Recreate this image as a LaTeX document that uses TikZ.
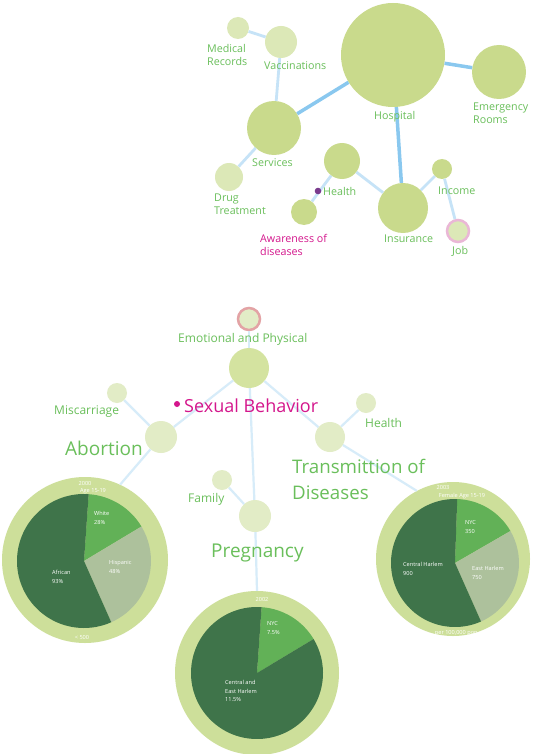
\documentclass[tikz,border=0pt]{standalone}
\usepackage{fontspec}
\setmainfont{Open Sans}
\definecolor{nodegreen}{HTML}{C9DA8C}
\definecolor{palegreen}{HTML}{DCE8B7}
\definecolor{softgreen}{HTML}{E2ECC6}
\definecolor{midgreen}{HTML}{D4E3A0}
\definecolor{ringgreen}{HTML}{CDDF9A}
\definecolor{darkslice}{HTML}{3F744A}
\definecolor{nycslice}{HTML}{62B157}
\definecolor{sageslice}{HTML}{ADC19C}
\definecolor{labelgreen}{HTML}{6ABF5B}
\definecolor{linkblue}{HTML}{8AC8EF}
\definecolor{lightblue}{HTML}{C6E3F7}
\definecolor{faintblue}{HTML}{D7ECF9}
\definecolor{hotpink}{HTML}{D4168C}
\definecolor{dotpurple}{HTML}{7A3B8D}
\definecolor{ringpink}{HTML}{E3A3A5}
\definecolor{jobpink}{HTML}{EAB7D6}
\begin{document}
\begin{tikzpicture}[x=1pt,y=-1pt,
    bubble/.style={circle,fill=nodegreen,inner sep=0pt},
    palebubble/.style={circle,fill=palegreen,inner sep=0pt},
    softbubble/.style={circle,fill=softgreen,inner sep=0pt},
    ringed/.style={circle,inner sep=0pt,line width=2.5pt},
    piering/.style={circle,fill=ringgreen,inner sep=0pt},
    thicklink/.style={linkblue,line width=3.5pt},
    link/.style={lightblue,line width=2.8pt},
    faintlink/.style={faintblue,line width=2.2pt},
    lbl/.style={text=labelgreen,inner sep=0pt,align=left,anchor=west,font=\fontsize{10.7}{13.5}\selectfont},
    midlbl/.style={lbl,font=\fontsize{12}{14}\selectfont},
    biglbl/.style={text=labelgreen,inner sep=0pt,align=left,anchor=west,font=\fontsize{19}{26}\selectfont},
    tinylbl/.style={text=white,inner sep=0pt,align=left,font=\fontsize{5.6}{8.5}\selectfont}]
\useasboundingbox[fill=white] (0,0) rectangle (533,754);

% top network
\node[bubble,minimum size=104pt] (hospital) at (393,55) {};
\node[bubble,minimum size=54pt] (emergency) at (499,72) {};
\node[palebubble,minimum size=22pt] (records) at (238,28) {};
\node[palebubble,minimum size=32pt] (vaccin) at (281,42) {};
\node[bubble,minimum size=54pt] (services) at (274,128) {};
\node[palebubble,minimum size=28pt] (drug) at (229,177) {};
\node[bubble,minimum size=36pt] (health) at (342,161) {};
\node[bubble,minimum size=26pt] (aware) at (304,212) {};
\node[bubble,minimum size=50pt] (insur) at (403,208) {};
\node[bubble,minimum size=20pt] (income) at (442,169) {};
\node[ringed,draw=jobpink,fill=palegreen,minimum size=22pt] (job) at (458,231) {};

\draw[thicklink] (hospital) -- (emergency);
\draw[thicklink] (hospital) -- (services);
\draw[thicklink] (hospital) -- (insur);
\draw[link] (records) -- (vaccin);
\draw[link] (vaccin) -- (services);
\draw[link] (services) -- (drug);
\draw[link] (health) -- (aware);
\draw[link] (health) -- (insur);
\draw[link] (insur) -- (income);
\draw[link] (income) -- (job);

\node[lbl] (recordslbl) at (207,55) {Medical\\Records};
\node[lbl] (vaccinlbl) at (264,66) {Vaccinations};
\node[lbl] (hospitallbl) at (374,117) {Hospital};
\node[lbl] (emergencylbl) at (473,113) {Emergency\\Rooms};
\node[lbl] (serviceslbl) at (252,163) {Services};
\node[lbl] (druglbl) at (214,204) {Drug\\Treatment};
\fill[dotpurple] (318,191) circle (3.3pt);
\node[lbl] (healthlbl) at (323,191) {Health};
\node[lbl,text=hotpink] (awarelbl) at (260,245) {Awareness of\\diseases};
\node[lbl] (insurlbl) at (384,239) {Insurance};
\node[lbl] (incomelbl) at (438,191) {Income};
\node[lbl] (joblbl) at (452,251) {Job};

% bottom network
\node[ringed,draw=ringpink,fill=softgreen,minimum size=22pt] (emotion) at (249,319) {};
\node[circle,fill=midgreen,inner sep=0pt,minimum size=40pt] (sexual) at (249,368) {};
\node[softbubble,minimum size=20pt] (miscarr) at (117,393) {};
\node[softbubble,minimum size=32pt] (abortion) at (161,437) {};
\node[softbubble,minimum size=20pt] (sthealth) at (366,403) {};
\node[softbubble,minimum size=30pt] (transmit) at (330,437) {};
\node[softbubble,minimum size=20pt] (family) at (222,480) {};
\node[softbubble,minimum size=32pt] (pregnancy) at (255,516) {};

% pies
\node[piering,minimum size=166pt] (pie1) at (85,560) {};
\node[piering,minimum size=164pt] (pie2) at (257,673) {};
\node[piering,minimum size=154pt] (pie3) at (453,559) {};
\coordinate (p1) at (84,561);
\coordinate (p2) at (257,673);
\coordinate (p3) at (455,563);
\foreach \from/\to/\col in {31/86/nycslice, -66/31/sageslice, 86/294/darkslice}
  \fill[\col] (p1) -- ++(\from:67pt) arc[start angle=\from,end angle=\to,radius=67pt] -- cycle;
\foreach \from/\to/\col in {31/86/nycslice, 86/391/darkslice}
  \fill[\col] (p2) -- ++(\from:66pt) arc[start angle=\from,end angle=\to,radius=66pt] -- cycle;
\foreach \from/\to/\col in {30/88/nycslice, -66/30/sageslice, 88/294/darkslice}
  \fill[\col] (p3) -- ++(\from:64pt) arc[start angle=\from,end angle=\to,radius=64pt] -- cycle;

\draw[faintlink] (emotion) -- (sexual);
\draw[faintlink] (sexual) -- (abortion);
\draw[faintlink] (sexual) -- (transmit);
\draw[faintlink] (sexual) -- (pregnancy);
\draw[faintlink] (abortion) -- (miscarr);
\draw[faintlink] (abortion) -- (pie1.65);
\draw[faintlink] (transmit) -- (sthealth);
\draw[faintlink] (transmit) -- (pie3.118);
\draw[faintlink] (family) -- (pregnancy);
\draw[faintlink] (pregnancy) -- (pie2.north);

\node[midlbl] (emotionlbl) at (178,339) {Emotional and Physical};
\node[midlbl] (miscarrlbl) at (54,412) {Miscarriage};
\fill[hotpink] (177,404) circle (3pt);
\node[lbl,text=hotpink,font=\fontsize{18}{20}\selectfont] (sexuallbl) at (184,406) {Sexual Behavior};
\node[biglbl] (abortionlbl) at (65,448) {Abortion};
\node[midlbl] (sthealthlbl) at (365,423) {Health};
\node[biglbl,font=\fontsize{18.7}{26}\selectfont] (transmitlbl) at (292,479) {Transmittion of\\Diseases};
\node[midlbl] (familylbl) at (188,499) {Family};
\node[biglbl] (pregnancylbl) at (211,553) {Pregnancy};

% pie labels
\node[tinylbl] (yr1) at (85,483) {2000};
\node[tinylbl] (age1) at (93,491) {Age 15-19};
\node[tinylbl,anchor=west] (white) at (94,518) {White\\28\%};
\node[tinylbl,anchor=west] (hispanic) at (109,567) {Hispanic\\48\%};
\node[tinylbl,anchor=west] (african) at (52,577) {African\\93\%};
\node[tinylbl] (cap1) at (82,637) {< 500};

\node[tinylbl] (yr2) at (262,599) {2002};
\node[tinylbl,anchor=west] (nyc2) at (267,628) {NYC\\7.5\%};
\node[tinylbl,anchor=west] (harlem2) at (225,691) {Central and\\East Harlem\\11.5\%};

\node[tinylbl] (yr3) at (443,487) {2003};
\node[tinylbl] (age3) at (462,496) {Female Age 15-19};
\node[tinylbl,anchor=west] (nyc3) at (465,527) {NYC\\350};
\node[tinylbl,anchor=west] (east3) at (472,573) {East Harlem\\750};
\node[tinylbl,anchor=west] (central3) at (403,569) {Central Harlem\\900};
\node[tinylbl] (cap3) at (457,633) {per 100,000 pop.};
\end{tikzpicture}
\end{document}
